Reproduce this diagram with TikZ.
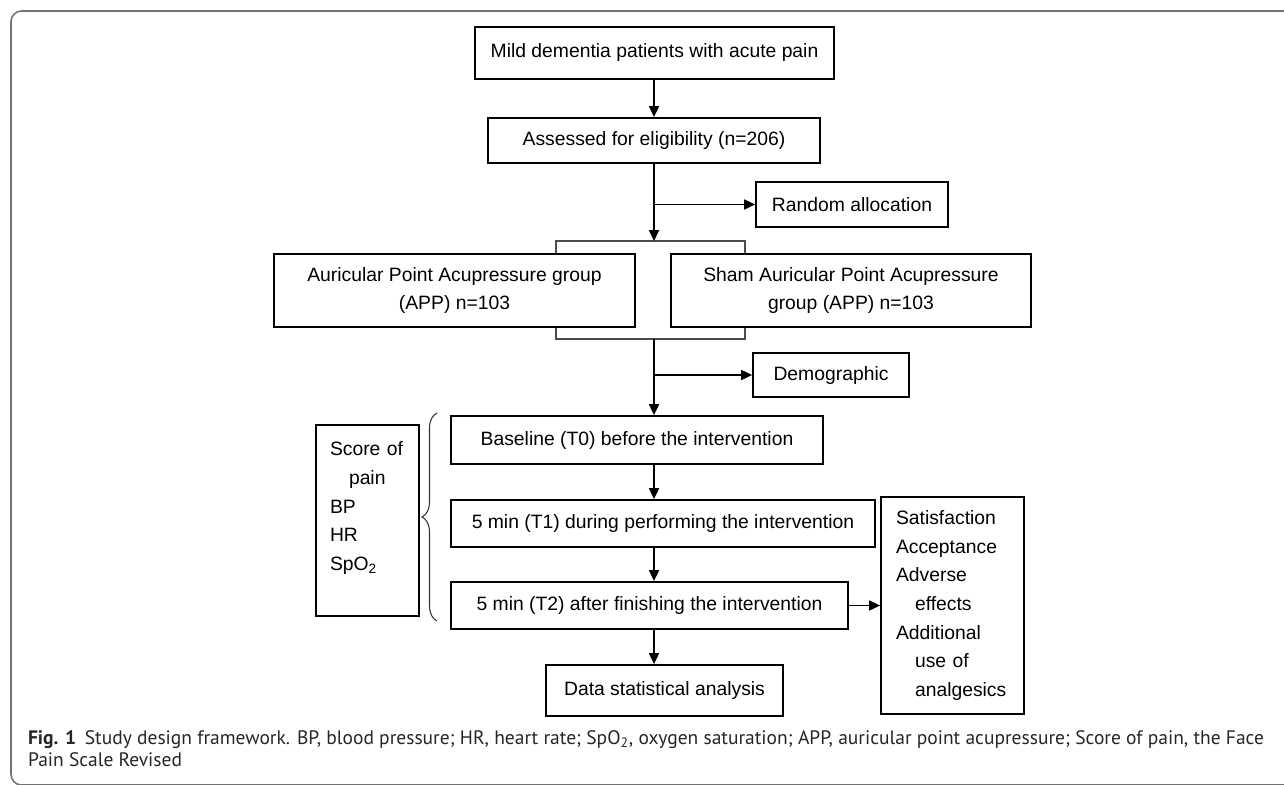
\documentclass[tikz,border=0pt]{standalone}
\usepackage{fontspec}
\setmainfont{Liberation Sans}
\newfontfamily\capfont{PT Sans}
\usetikzlibrary{positioning,arrows.meta,decorations.pathreplacing}
\tikzset{box/.style={rectangle,draw,fill=white,line width=1pt,align=center,inner sep=0pt,font=\fontsize{11}{16.3}\selectfont}}
\tikzset{captext/.style={anchor=base west,inner sep=0pt,text=black!85,font=\capfont\fontsize{11.1}{12.5}\selectfont}}

\begin{document}
\begin{tikzpicture}[>={Triangle[length=0.22cm,width=0.2cm]},x=0.02cm,y=-0.02cm]
    \useasboundingbox (0,0) rectangle (1284,784);
    \draw[black!55,line width=0.9pt,rounded corners=6] (11,11) rectangle (1330,785);

    \coordinate (spine) at (654,0);
    \coordinate (brnw) at (556,241);
    \coordinate (brse) at (745,339);
    \draw[black!70,line width=0.6pt] (brnw) rectangle (brse);

    \node[box,minimum width=7.18cm,minimum height=1.04cm] (pat)at (654.5,53) {Mild dementia patients with acute pain};
    \node[box,minimum width=6.64cm,minimum height=0.90cm] (elig)at (654,140.5) {Assessed for eligibility (n=206)};
    \node[box,minimum width=3.84cm,minimum height=0.90cm] (rand)at (852,204.5) {Random allocation};
    \node[box,minimum width=7.22cm,minimum height=1.46cm] (app)at (454.5,290.5) {Auricular Point Acupressure group\\(APP) n=103};
    \node[box,minimum width=7.20cm,minimum height=1.46cm] (sham)at (851,290.5) {Sham Auricular Point Acupressure\\group (APP) n=103};
    \node[box,minimum width=3.12cm,minimum height=0.88cm] (demo)at (831,375) {Demographic};
    \node[box,minimum width=7.44cm,minimum height=0.96cm] (base)at (637,440) {Baseline (T0) before the intervention};
    \node[box,minimum width=8.48cm,minimum height=0.94cm] (tone)at (663,523.5) {5 min (T1) during performing the intervention};
    \node[box,minimum width=7.94cm,minimum height=0.94cm] (ttwo)at (649.5,605.5) {5 min (T2) after finishing the intervention};
    \node[box,minimum width=4.74cm,minimum height=1.02cm] (data)at (664.5,690.5) {Data statistical analysis};
    \node[box,minimum width=2.86cm,minimum height=4.34cm,text width=2.26cm,align=left] (outc)at (952.5,605.5) {Satisfaction\\Acceptance\\Adverse\\\hspace*{0.38cm}effects\\Additional\\\hspace*{0.38cm}use of\\\hspace*{0.38cm}analgesics};
    \node[box,minimum width=2.06cm,minimum height=3.82cm,text width=1.5cm,align=left] (score)at (367.5,520.5) {Score of\\\hspace*{0.38cm}pain\\BP\\HR\\SpO\textsubscript{2}\\\mbox{}};

    \draw [->,line width=1pt] (pat.south -| spine) to (elig.north -| spine);
    \draw [->,line width=1pt] (elig.south -| spine) to (brnw -| spine);
    \draw [->,line width=1pt] (rand.west -| spine) to (rand.west);
    \draw [->,line width=1pt] (brse -| spine) to (base.north -| spine);
    \draw [->,line width=1pt] (demo.west -| spine) to (demo.west);
    \draw [->,line width=1pt] (base.south -| spine) to (tone.north -| spine);
    \draw [->,line width=1pt] (tone.south -| spine) to (ttwo.north -| spine);
    \draw [->,line width=1pt] (ttwo.south -| spine) to (data.north -| spine);
    \draw [->,line width=1pt] (ttwo.east) to (outc.west);

    \draw [black!80,line width=0.6pt,decorate,decoration={brace,amplitude=0.3cm}] (437,621) -- (437,413);

    \node[captext] (capa)at (27.7,744) {\textbf{Fig. 1}\hspace{0.45em}Study design framework. BP, blood pressure; HR, heart rate; SpO\textsubscript{2}, oxygen saturation; APP, auricular point acupressure; Score of pain, the Face};
    \node[captext] (capb)at (27.7,766) {Pain Scale Revised};
\end{tikzpicture}
\end{document}
